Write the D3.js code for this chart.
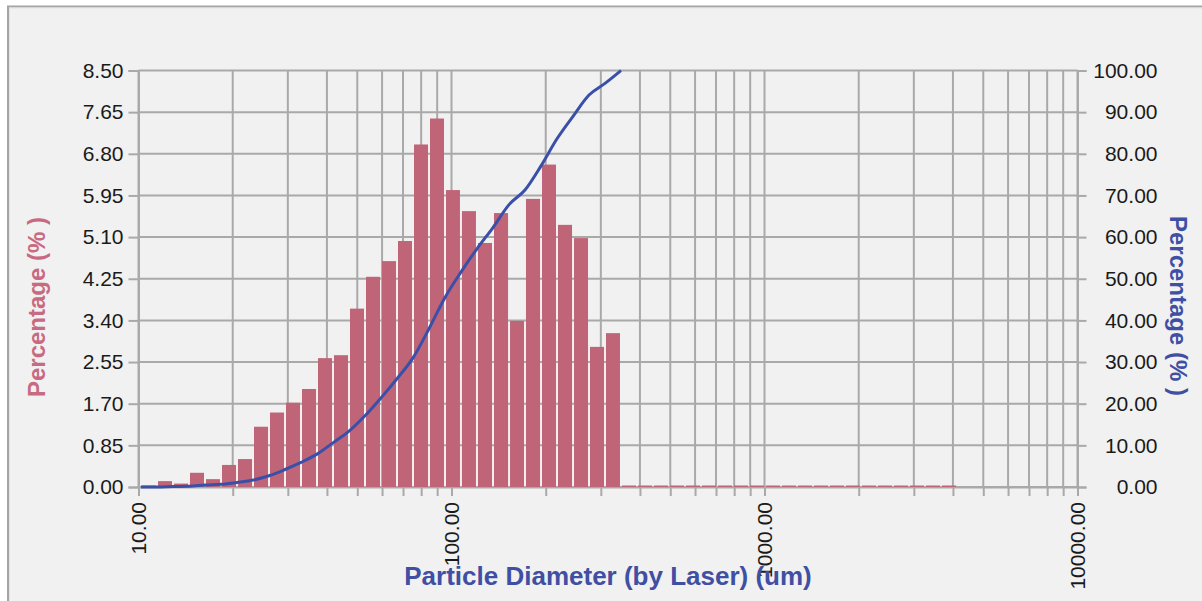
<!DOCTYPE html>
<html>
<head>
<meta charset="utf-8">
<script src="https://cdn.jsdelivr.net/npm/d3@7"></script>
<style>
  html, body { margin: 0; padding: 0; background: #ffffff; }
  svg { display: block; }
  text { font-family: "Liberation Sans", Arial, sans-serif; }
</style>
</head>
<body>
<svg id="chart" width="1202" height="601"></svg>
<script>
// ---------------- data ----------------
// bin edges (um), read from the bar positions on the log axis
const binEdges = [10.18, 11.46, 12.89, 14.50, 16.31, 18.35, 20.64, 23.22, 26.12, 29.38,
  33.05, 37.18, 41.82, 47.05, 52.92, 59.53, 66.97, 75.34, 84.74, 95.33,
  107.2, 120.6, 135.7, 152.7, 171.7, 193.2, 217.3, 244.5, 275.0, 309.3,
  347.9, 391.4, 440.3, 495.3, 557.2, 626.8, 705.1, 793.2, 892.3, 1004,
  1129, 1270, 1429, 1607, 1808, 2034, 2288, 2574, 2896, 3257, 3664, 4122];
// percentage in each bin (%)
const binValues = [0, 0.12, 0.07, 0.29, 0.16, 0.45, 0.57, 1.23, 1.52, 1.72,
  2.00, 2.63, 2.69, 3.64, 4.29, 4.61, 5.02, 6.99, 7.52, 6.06,
  5.63, 4.98, 5.59, 3.39, 5.88, 6.58, 5.35, 5.08, 2.86, 3.14,
  0, 0, 0, 0, 0, 0, 0, 0, 0, 0,
  0, 0, 0, 0, 0, 0, 0, 0, 0, 0, 0];
// cumulative percentage at bin edges 0..30 (%)
const cumValues = [0, 0, 0.12, 0.19, 0.48, 0.64, 1.09, 1.66, 2.7, 4.2,
  5.9, 7.9, 10.6, 13.4, 17.1, 21.4, 26.0, 31.0, 38.0, 45.5,
  51.6, 57.2, 62.3, 67.8, 71.3, 77.1, 83.6, 89.0, 94.1, 96.9, 100.0];

const leftTicks = [0, 0.85, 1.70, 2.55, 3.40, 4.25, 5.10, 5.95, 6.80, 7.65, 8.50];
const leftTickLabels = ["0.00", "0.85", "1.70", "2.55", "3.40", "4.25", "5.10", "5.95", "6.80", "7.65", "8.50"];
const rightTicks = [0, 10, 20, 30, 40, 50, 60, 70, 80, 90, 100];
const rightTickLabels = ["0.00", "10.00", "20.00", "30.00", "40.00", "50.00", "60.00", "70.00", "80.00", "90.00", "100.00"];
const xMajorTicks = [10, 100, 1000, 10000];
const xMajorLabels = ["10.00", "100.00", "1000.00", "10000.00"];
const xMinorTicks = [20, 30, 40, 50, 60, 70, 80, 90, 200, 300, 400, 500, 600, 700, 800, 900,
  2000, 3000, 4000, 5000, 6000, 7000, 8000, 9000];

const xTitle = "Particle Diameter (by Laser) (um)";
const yTitle = "Percentage (% )";
const y2Title = "Percentage (% )";

// ---------------- style ----------------
const bgColor = "#f0f1f0";
const gridColor = "#a9a9a9";
const barColor = "#c06478";
const lineColor = "#3a50a8";
const leftTitleColor = "#c86a82";
const blueTitleColor = "#3f4fa3";

const svg = d3.select("#chart");

// panel
svg.append("rect").attr("x", 8).attr("y", 6.5).attr("width", 1300).attr("height", 700)
  .attr("fill", bgColor).attr("stroke", "#a4a4a4").attr("stroke-width", 2);
svg.append("rect").attr("x", 9.5).attr("y", 8).attr("width", 1300).attr("height", 700)
  .attr("fill", "none").attr("stroke", "#e2e3e2").attr("stroke-width", 1);

const x = d3.scaleLog().domain([10, 10000]).range([138.5, 1077.5]);
const y = d3.scaleLinear().domain([0, 8.5]).range([487, 70.5]);
const y2 = d3.scaleLinear().domain([0, 100]).range([487, 70.5]);

// grid
const grid = svg.append("g");
grid.selectAll("line.h").data(leftTicks).join("line")
  .attr("x1", x(10)).attr("x2", x(10000))
  .attr("y1", d => y(d)).attr("y2", d => y(d))
  .attr("stroke", gridColor).attr("stroke-width", 2);
grid.selectAll("line.v").data(xMajorTicks.concat(xMinorTicks)).join("line")
  .attr("x1", d => x(d)).attr("x2", d => x(d))
  .attr("y1", y(0)).attr("y2", y(8.5))
  .attr("stroke", gridColor).attr("stroke-width", 2);

// axes
const fmtLeft = (d, i) => leftTickLabels[i];
const fmtRight = (d, i) => rightTickLabels[i];

const gL = svg.append("g").attr("transform", `translate(${x(10)},0)`)
  .call(d3.axisLeft(y).tickValues(leftTicks).tickFormat(fmtLeft).tickSize(10).tickPadding(5));
const gR = svg.append("g").attr("transform", `translate(${x(10000)},0)`)
  .call(d3.axisRight(y2).tickValues(rightTicks).tickFormat(fmtRight).tickSize(9).tickPadding(14));
const gB = svg.append("g").attr("transform", `translate(0,${y(0)})`)
  .call(d3.axisBottom(x).tickValues(xMajorTicks.concat(xMinorTicks)).tickFormat("").tickSize(9));

[gL, gR, gB].forEach(g => {
  g.select(".domain").attr("stroke", gridColor).attr("stroke-width", 2);
  g.selectAll(".tick line").attr("stroke", gridColor).attr("stroke-width", 2);
  g.selectAll(".tick text").attr("font-size", 21).attr("fill", "#1a1a1a")
    .attr("font-family", "'Liberation Sans', Arial, sans-serif");
});
gR.selectAll(".tick text").attr("text-anchor", "end").attr("x", 80);

// rotated x labels
svg.append("g").selectAll("text").data(xMajorTicks).join("text")
  .attr("transform", d => `translate(${x(d) + 7.5},502) rotate(-90)`)
  .attr("text-anchor", "end")
  .attr("font-size", 21).attr("fill", "#1a1a1a")
  .text((d, i) => xMajorLabels[i]);

// bars
const bins = binValues.map((v, i) => ({ lo: binEdges[i], hi: binEdges[i + 1], v }));
svg.append("g").selectAll("rect").data(bins).join("rect")
  .attr("x", d => x(d.lo) + 1)
  .attr("width", d => x(d.hi) - x(d.lo) - 2)
  .attr("y", d => d.v > 0 ? y(d.v) : y(0) - 1.5)
  .attr("height", d => d.v > 0 ? y(0) - y(d.v) : 1.5)
  .attr("fill", barColor);

// cumulative line
const pts = cumValues.map((v, i) => [binEdges[i], v]);
const lineGen = d3.line().x(d => x(d[0])).y(d => y2(d[1])).curve(d3.curveMonotoneX);
svg.append("path").datum(pts)
  .attr("d", lineGen)
  .attr("fill", "none").attr("stroke", lineColor).attr("stroke-width", 3)
  .attr("stroke-linejoin", "round");

// titles
svg.append("text").attr("x", 608).attr("y", 585).attr("text-anchor", "middle")
  .attr("font-size", 26).attr("font-weight", "bold").attr("fill", blueTitleColor).text(xTitle);
svg.append("text").attr("transform", "translate(45,307) rotate(-90)").attr("text-anchor", "middle")
  .attr("font-size", 24).attr("font-weight", "bold").attr("fill", leftTitleColor).text(yTitle);
svg.append("text").attr("transform", "translate(1170,306) rotate(90)").attr("text-anchor", "middle")
  .attr("font-size", 24).attr("font-weight", "bold").attr("fill", blueTitleColor).text(y2Title);
</script>
</body>
</html>
